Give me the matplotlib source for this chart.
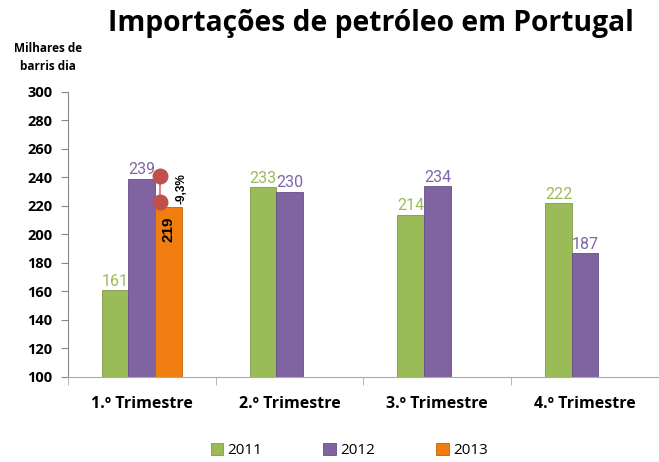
import numpy as np
import matplotlib
matplotlib.use('Agg')
import matplotlib.pyplot as plt

# data
quarters = ['1.º Trimestre', '2.º Trimestre', '3.º Trimestre', '4.º Trimestre']
v2011 = [161, 233, 214, 222]
v2012 = [239, 230, 234, 187]
v2013 = [219]
change_2013 = '-9,3%'

green = '#9bbb59'
purple = '#8064a2'
orange = '#f07d10'
green_txt = '#9bbb59'
purple_txt = '#7e66a8'

plt.rcParams['font.family'] = ['Open Sans', 'DejaVu Sans']

fig = plt.figure(figsize=(6.59, 4.62), dpi=100)
ax = fig.add_axes([0.103, 0.184, 0.897, 0.617])

x = np.arange(len(quarters))
w = 0.18

b1 = ax.bar(x - w, v2011, w, color=green, edgecolor='#7f9a45', linewidth=0.6, label='2011')
b2 = ax.bar(x, v2012, w, color=purple, edgecolor='#64508a', linewidth=0.6, label='2012')
b3 = ax.bar(x[:len(v2013)] + w, v2013, w, color=orange, edgecolor='#c0600a', linewidth=0.6, label='2013')

# value labels
lab_font = ['Roboto', 'DejaVu Sans']
for xi, v in zip(x - w, v2011):
    ax.text(xi, v + 1, str(v), ha='center', va='bottom', color=green_txt,
            fontsize=11.5, family=lab_font)
for xi, v in zip(x, v2012):
    ax.text(xi, v + 1, str(v), ha='center', va='bottom', color=purple_txt,
            fontsize=11.5, family=lab_font)
for xi, v in zip(x[:len(v2013)] + w, v2013):
    ax.text(xi, v - 15, str(v), ha='center', va='center', color='black',
            fontsize=11, fontweight='bold', rotation=90, family=['Liberation Sans', 'DejaVu Sans'])

# change marker between 2012 and 2013
dx = x[0] + w * 0.7
y_top = v2012[0] + 2
y_bot = v2013[0] + 4
ax.plot([dx, dx], [y_top, y_bot], color='#d98a8a', lw=1.5, zorder=5)
ax.scatter([dx, dx], [y_top, y_bot], s=110, color='#c0504d', zorder=6)
ax.text(x[0] + w * 1.5, (y_top + y_bot) / 2, change_2013, rotation=90, ha='center', va='center',
        fontsize=8.5, fontweight='bold', family=['Liberation Sans', 'DejaVu Sans'])

ax.set_xlim(-0.5, 3.5)
ax.set_ylim(100, 300)
ax.set_yticks(np.arange(100, 301, 20))
ax.set_xticks(x)
ax.set_xticklabels(quarters, fontsize=11.5, fontweight='bold')
ax.tick_params(axis='x', length=0, pad=14)
ax.tick_params(axis='y', labelsize=10.5, length=5, color='#888888', pad=6)
for t in ax.get_yticklabels():
    t.set_fontweight('bold')
# category separators
ax.set_xticks(np.arange(-0.5, 4.0, 1.0), minor=True)
ax.tick_params(axis='x', which='minor', length=6, color='#aaaaaa')

ax.spines['top'].set_visible(False)
ax.spines['right'].set_visible(False)
ax.spines['left'].set_color('#888888')
ax.spines['bottom'].set_color('#aaaaaa')

fig.text(0.563, 0.950, 'Importações de petróleo em Portugal', ha='center', va='center',
         fontsize=20.3, fontweight='bold')
fig.text(0.073, 0.875, 'Milhares de\nbarris dia', ha='center', va='center',
         fontsize=8.5, fontweight='bold', linespacing=1.5)

fig.legend(handles=[b1, b2, b3], loc='center', bbox_to_anchor=(0.53, 0.025), ncol=3,
           frameon=False, handlelength=0.8, handleheight=0.8, handletextpad=0.3,
           columnspacing=4.0, fontsize=11)

fig.savefig('out.png', dpi=100)
